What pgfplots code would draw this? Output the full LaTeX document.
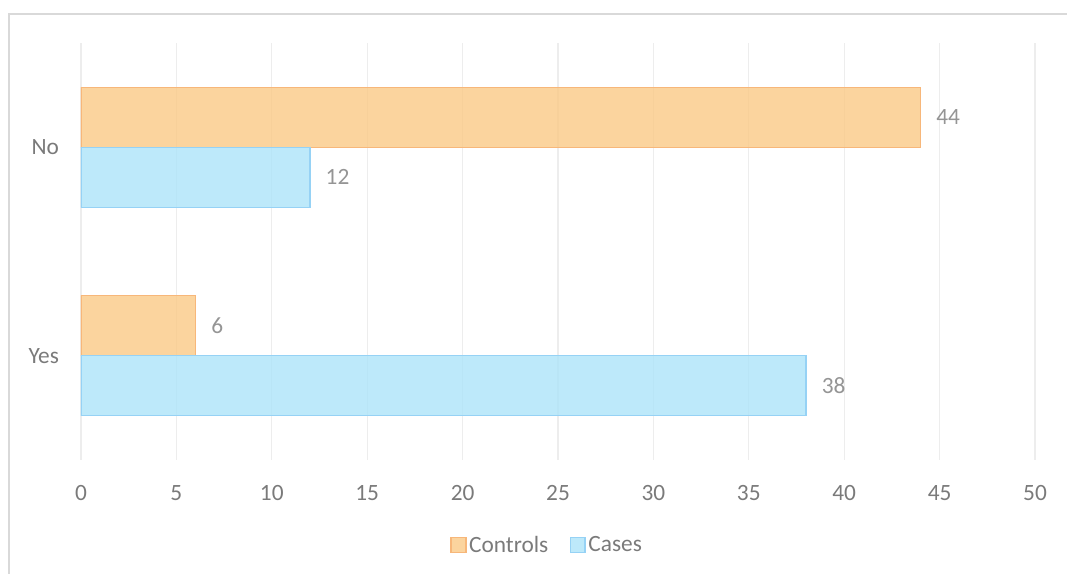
\documentclass[border=0pt]{standalone}
\usepackage{fontspec}
\setmainfont{Carlito}
\usepackage{pgfplots}
\pgfplotsset{compat=1.18}
\definecolor{ctrlfill}{HTML}{FAC986}
\definecolor{ctrldraw}{HTML}{F7B77A}
\definecolor{casefill}{HTML}{ADE4F9}
\definecolor{casedraw}{HTML}{96D2F5}
\definecolor{txtgray}{HTML}{7A7A7A}
\definecolor{gridgray}{HTML}{EDEDED}
\definecolor{framegray}{HTML}{D9D9D9}
\begin{document}
\begin{tikzpicture}[x=1pt,y=1pt]
\useasboundingbox (0,0) rectangle (800.25,430.5);
\draw[framegray, line width=1pt] (6.75,-10) -- (6.75,420) -- (820,420);
\begin{axis}[
  at={(60.75pt,85.5pt)}, anchor=south west,
  scale only axis, width=715.5pt, height=312.75pt,
  xbar, bar width=45pt,
  xmin=0, xmax=50, ymin=-0.5, ymax=1.5,
  xtick={0,5,...,50}, ytick={0,1}, yticklabels={Yes,No},
  axis line style={draw=none},
  major tick length=0pt,
  xmajorgrids, grid style={gridgray, line width=0.9pt},
  ticklabel style={font=\fontsize{17.5}{20}\selectfont, text=txtgray},
  /pgf/number format/assume math mode=true,
  xticklabel style={yshift=-15.5pt},
  yticklabel style={xshift=-13pt},
  nodes near coords,
  every node near coord/.append style={font=\fontsize{17.5}{20}\selectfont, text=txtgray, anchor=west, xshift=8pt},
  legend style={at={(0.489,-0.2038)}, anchor=center, draw=none, fill=none,
    legend columns=2, font=\fontsize{17.5}{20}\selectfont, text=txtgray,
    /tikz/every even column/.append style={column sep=14pt}},
  legend image code/.code={\draw[#1, line width=1.1pt] (0pt,-5.5pt) rectangle (11pt,5.5pt);},
]
\addplot[bar shift=22.5pt, fill=ctrlfill, fill opacity=0.8, draw=ctrldraw, line width=1pt]
  coordinates {(44,1) (6,0)};
\addlegendentry{Controls}
\addplot[bar shift=-22.5pt, fill=casefill, fill opacity=0.8, draw=casedraw, line width=1pt]
  coordinates {(12,1) (38,0)};
\addlegendentry{Cases}
\end{axis}
\end{tikzpicture}
\end{document}
